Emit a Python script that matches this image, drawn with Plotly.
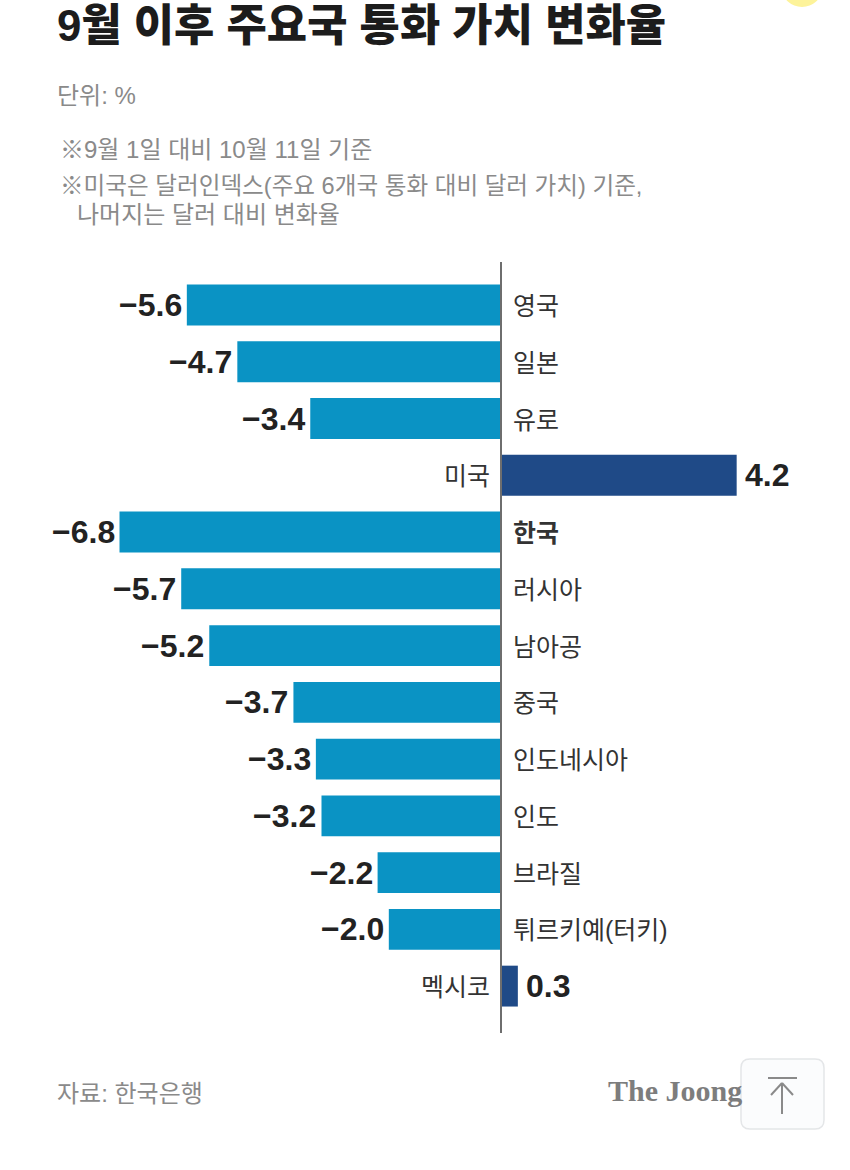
import plotly.graph_objects as go

FONT = "Liberation Sans, Noto Sans CJK KR"

countries = ["영국", "일본", "유로", "미국", "한국", "러시아", "남아공", "중국",
             "인도네시아", "인도", "브라질", "튀르키예(터키)", "멕시코"]
values = [-5.6, -4.7, -3.4, 4.2, -6.8, -5.7, -5.2, -3.7, -3.3, -3.2, -2.2, -2.0, 0.3]
value_labels = ["−5.6", "−4.7", "−3.4", "4.2", "−6.8", "−5.7", "−5.2", "−3.7",
                "−3.3", "−3.2", "−2.2", "−2.0", "0.3"]

LIGHT_BLUE = "#0a93c4"
DARK_BLUE = "#1f4a87"

title = "9월 이후 주요국 통화 가치 변화율"
unit = "단위: %"
notes = ["※9월 1일 대비 10월 11일 기준",
         "※미국은 달러인덱스(주요 6개국 통화 대비 달러 가치) 기준,",
         "나머지는 달러 대비 변화율"]
source = "자료: 한국은행"
logo = "The Joong"

fig = go.Figure()

fig.add_trace(go.Bar(
    x=values,
    y=countries,
    orientation="h",
    width=0.72,
    marker=dict(color=[DARK_BLUE if v > 0 else LIGHT_BLUE for v in values], line=dict(width=0)),
    hoverinfo="skip",
))

# country names sit on the far side of the axis from the bar, value labels at the bar end
for name, v, lab in zip(countries, values, value_labels):
    fig.add_annotation(
        x=0, y=name, xref="x", yref="y",
        text=f"<b>{name}</b>" if name == "한국" else name,
        showarrow=False,
        xanchor="right" if v > 0 else "left",
        xshift=-9 if v > 0 else 10,
        yshift=-1,
        font=dict(family=FONT, size=25, color="#333333"),
    )
    fig.add_annotation(
        x=v, y=name, xref="x", yref="y",
        text=f"<b>{lab}</b>",
        showarrow=False,
        xanchor="left" if v > 0 else "right",
        xshift=6 if v > 0 else -3,
        font=dict(family=FONT, size=32, color="#222222"),
    )


def page_text(px, py, text, size, color, weight=400, family=FONT):
    fig.add_annotation(
        x=px / 850, y=1 - py / 1170, xref="paper", yref="paper",
        text=text,
        showarrow=False, xanchor="left", yanchor="middle",
        font=dict(family=family, size=size, color=color, weight=weight),
    )


page_text(55, 25, title, 43.8, "#1c1c1c", weight=900)
page_text(55, 95, unit, 24, "#8a8a8a")
page_text(58, 149, notes[0], 24, "#8a8a8a")
page_text(58, 186, notes[1], 23.6, "#8a8a8a")
page_text(75, 214, notes[2], 24, "#8a8a8a")
page_text(55, 1093, source, 24, "#8a8a8a")
page_text(606, 1090, logo, 30, "#7d7d7d", weight=700, family="Liberation Serif")


def px(x, y):
    return f"{x / 850:.5f} {1 - y / 1170:.5f}"


# rounded scroll-to-top button
button_path = (
    f"M {px(750, 1059)} L {px(815, 1059)} Q {px(824, 1059)} {px(824, 1068)} "
    f"L {px(824, 1120)} Q {px(824, 1129)} {px(815, 1129)} "
    f"L {px(750, 1129)} Q {px(741, 1129)} {px(741, 1120)} "
    f"L {px(741, 1068)} Q {px(741, 1059)} {px(750, 1059)} Z"
)
fig.add_shape(type="path", path=button_path, xref="paper", yref="paper", layer="above",
              fillcolor="#fbfcfd", line=dict(color="#e4e6e8", width=1.5))

# pixel positions below are converted to paper fractions
shapes = [
    dict(type="line", x0=501, x1=501, y0=262, y1=1033, line=dict(color="#6e6e6e", width=2)),
    dict(type="circle", x0=782, x1=822, y0=-30, y1=7, fillcolor="#fdf39a", line=dict(width=0)),
    dict(type="line", x0=768, x1=797, y0=1078, y1=1078, line=dict(color="#8a8a8a", width=2)),
    dict(type="line", x0=782, x1=782, y0=1083, y1=1114, line=dict(color="#8a8a8a", width=2)),
    dict(type="line", x0=771, x1=782, y0=1095, y1=1083, line=dict(color="#8a8a8a", width=2)),
    dict(type="line", x0=793, x1=782, y0=1095, y1=1083, line=dict(color="#8a8a8a", width=2)),
]
for s in shapes:
    s["x0"], s["x1"] = s["x0"] / 850, s["x1"] / 850
    s["y0"], s["y1"] = 1 - s["y0"] / 1170, 1 - s["y1"] / 1170
    fig.add_shape(xref="paper", yref="paper", layer="above", **s)

fig.update_layout(
    width=850,
    height=1170,
    margin=dict(l=0, r=0, t=0, b=0),
    paper_bgcolor="white",
    plot_bgcolor="white",
    showlegend=False,
    xaxis=dict(range=[-8.93, 6.22], visible=False, fixedrange=True),
    yaxis=dict(range=[15.24, -5.374], visible=False, fixedrange=True,
               type="category", categoryorder="array", categoryarray=countries),
)

fig.write_html("out.html", config=dict(displayModeBar=False),
               post_script="document.body.style.margin='0';")
